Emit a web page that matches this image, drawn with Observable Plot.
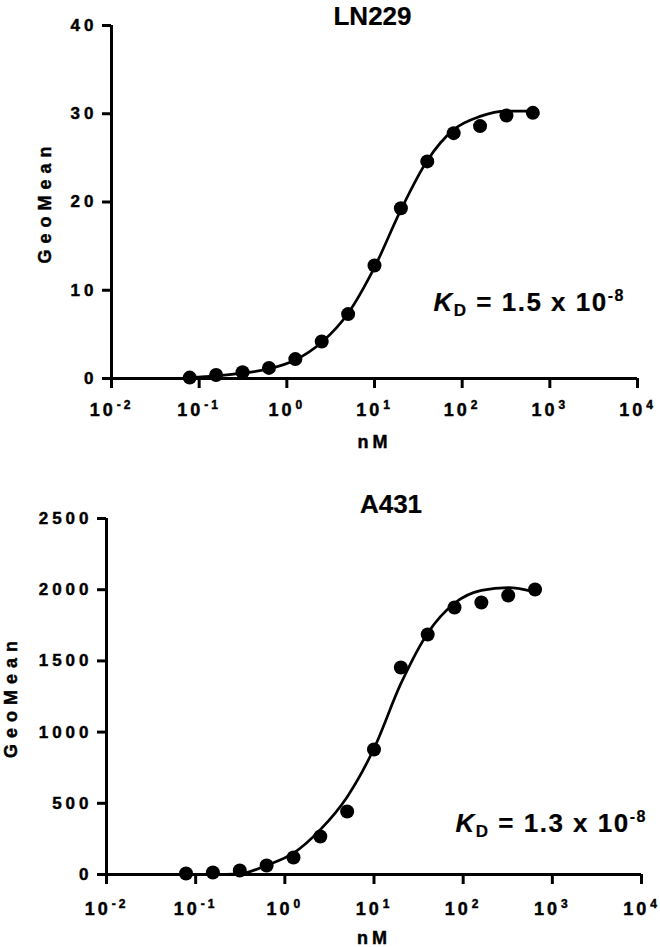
<!DOCTYPE html>
<html><head><meta charset="utf-8">
<script src="https://cdn.jsdelivr.net/npm/d3@7"></script>
<script src="https://cdn.jsdelivr.net/npm/@observablehq/plot@0.6"></script>
<style>
body{margin:0;background:#fff;}
#chart svg{display:block;}
#chart svg text{font-family:"Liberation Sans",Arial,Helvetica,sans-serif;font-weight:bold;fill:#000;stroke:#000;stroke-width:0.45px;}
</style></head>
<body><div id="chart"></div>
<script>
// concentration series (nM)
const conc = [0.078, 0.156, 0.3125, 0.625, 1.25, 2.5, 5, 10, 20, 40, 80, 160, 320, 640];
// LN229 measured GeoMean
const ln229Mean = [0.1, 0.4, 0.7, 1.2, 2.2, 4.2, 7.3, 12.8, 19.3, 24.6, 27.8, 28.6, 29.8, 30.1];
// LN229 fitted curve
const ln229Fit = [0.1, 0.3, 0.6, 1.1, 2.1, 4.1, 7.4, 12.6, 19.1, 24.7, 28.2, 29.7, 30.3, 30.3];
// A431 measured GeoMean
const a431Mean = [7, 14, 28, 63, 119, 267, 442, 878, 1454, 1685, 1875, 1910, 1959, 2001];
// A431 fitted curve
const a431Fit = [0, 0, 5, 65, 150, 315, 545, 885, 1340, 1695, 1905, 1995, 2015, 1985];

const xTicks = [0.01, 0.1, 1, 10, 100, 1000, 10000];
const ln229Ticks = [0, 10, 20, 30, 40];
const a431Ticks = [0, 500, 1000, 1500, 2000, 2500];
const titles = ["LN229", "A431"];
const kdMantissa = ["1.5", "1.3"];
const kdExponent = "-8";
const yLabel = "GeoMean";
const xLabel = "nM";

const ns = "http://www.w3.org/2000/svg";
function tspan(txt, attrs) {
  const t = document.createElementNS(ns, "tspan");
  t.textContent = txt;
  for (const k in attrs) t.setAttribute(k, attrs[k]);
  return t;
}
function styleText(t, size, spacing) {
  t.setAttribute("font-size", size);
  t.style.setProperty("font-size", size + "px", "important");
  if (spacing != null) t.style.setProperty("letter-spacing", spacing + "px", "important");
}

function panel(cfg) {
  const data = conc.map((c, i) => ({c, v: cfg.mean[i], f: cfg.fit[i]}));
  const kdString = "KD = " + cfg.kd + " x 10" + kdExponent;
  const svg = Plot.plot({
    width: 660, height: cfg.height,
    marginTop: cfg.mt, marginBottom: cfg.mb, marginLeft: cfg.ml, marginRight: cfg.mr,
    x: {type: "log", domain: [xTicks[0], xTicks[xTicks.length - 1]]},
    y: {domain: [cfg.ticksY[0], cfg.ticksY[cfg.ticksY.length - 1]]},
    marks: [
      Plot.axisX({ticks: xTicks, tickSize: 10, tickPadding: cfg.xpad, strokeWidth: 3, fontSize: 18,
        tickFormat: d => String(Math.round(Math.log10(d))), label: null}),
      Plot.axisY({ticks: cfg.ticksY, tickSize: 9, tickPadding: 5, strokeWidth: 3, fontSize: 17,
        tickFormat: d => String(d), label: null}),
      Plot.ruleY([cfg.ticksY[0]], {strokeWidth: 3}),
      Plot.ruleX([xTicks[0]], {strokeWidth: 3}),
      Plot.line(data, {x: "c", y: "f", curve: "monotone-x", strokeWidth: 2.7}),
      Plot.dot(data, {x: "c", y: "v", r: 7, fill: "black", stroke: "none"}),
      Plot.text([cfg.title], {frameAnchor: "top", textAnchor: "middle", lineAnchor: "middle",
        dx: cfg.tdx, dy: cfg.tdy, fontSize: 26}),
      Plot.text([yLabel], {frameAnchor: "left", textAnchor: "middle", lineAnchor: "middle",
        rotate: -90, dx: cfg.ylx, fontSize: 18}),
      Plot.text([xLabel], {frameAnchor: "bottom", textAnchor: "middle", lineAnchor: "middle",
        dy: 64, fontSize: 18}),
      Plot.text([kdString], {frameAnchor: "top-left", textAnchor: "start", lineAnchor: "middle",
        dx: cfg.kdx, dy: cfg.kdy, fontSize: 26})
    ]
  });
  svg.querySelectorAll('g[aria-label="y-axis tick label"] text').forEach(t => styleText(t, 17, 4));
  svg.querySelectorAll('g[aria-label="x-axis tick label"] text').forEach(t => {
    const e = t.textContent;
    styleText(t, 18, 3);
    t.textContent = "";
    t.append(tspan("10", {}), tspan(e, {"font-size": 12, style: "font-size:12px", dy: -7, dx: 1}));
  });
  svg.querySelectorAll("text").forEach(t => {
    const s = t.textContent;
    if (s === yLabel) styleText(t, 18, 6);
    else if (s === xLabel) styleText(t, 18, 4);
    else if (s === cfg.title) { styleText(t, 26, null); t.style.strokeWidth = "0.2px"; }
    else if (s === kdString) {
      styleText(t, 26, 1.5); t.style.strokeWidth = "0.2px";
      t.textContent = "";
      t.append(
        tspan("K", {"font-style": "italic"}),
        tspan("D", {"font-size": 17, style: "font-size:17px", dy: 5}),
        tspan(" = " + cfg.kd + " x 10", {dy: -5}),
        tspan(kdExponent, {"font-size": 16, style: "font-size:16px", dy: -10})
      );
    }
  });
  return svg;
}

const root = document.getElementById("chart");
root.append(panel({
  title: titles[0], ticksY: ln229Ticks, mean: ln229Mean, fit: ln229Fit, kd: kdMantissa[0],
  height: 470, mt: 25, mb: 92, ml: 111, mr: 23, xpad: 15,
  tdx: -2, tdy: -9, ylx: -66, kdx: 322, kdy: 277
}));
root.append(panel({
  title: titles[1], ticksY: a431Ticks, mean: a431Mean, fit: a431Fit, kd: kdMantissa[1],
  height: 477, mt: 48, mb: 73, ml: 106, mr: 19, xpad: 18,
  tdx: 17, tdy: -14, ylx: -95, kdx: 349, kdy: 305
}));
</script>
</body></html>
